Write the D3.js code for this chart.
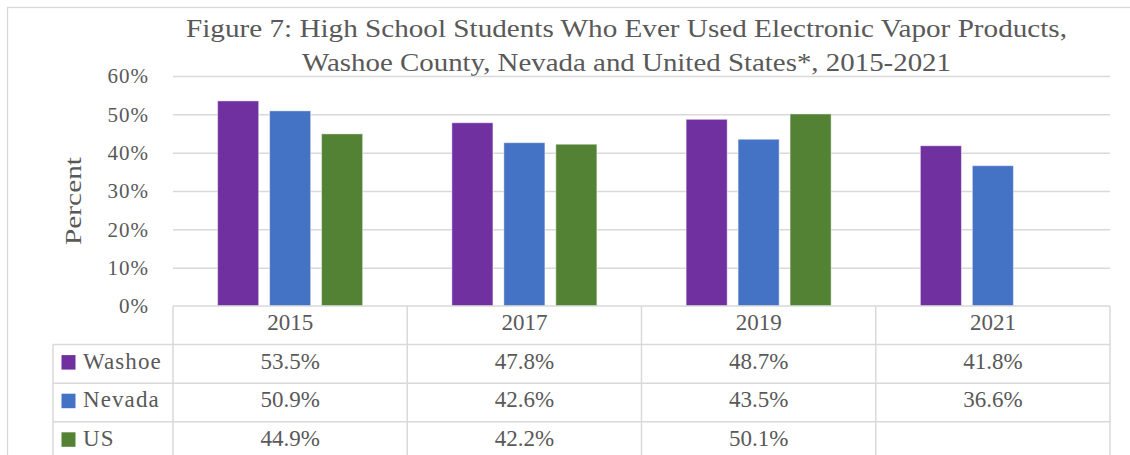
<!DOCTYPE html>
<html>
<head>
<meta charset="utf-8">
<script src="https://cdn.jsdelivr.net/npm/d3@7"></script>
<style>
  html, body { margin: 0; padding: 0; background: #fff; }
  svg { display: block; }
  text { font-family: "Liberation Serif", "DejaVu Serif", serif; fill: #595959; }
</style>
</head>
<body>
<svg id="chart" width="1130" height="455"></svg>
<script>
// Data
const years = ["2015", "2017", "2019", "2021"];
const seriesNames = ["Washoe", "Nevada", "US"];
const washoe = [53.5, 47.8, 48.7, 41.8];
const nevada = [50.9, 42.6, 43.5, 36.6];
const us = [44.9, 42.2, 50.1, null];
const yTicks = [0, 10, 20, 30, 40, 50, 60];
const titleLines = [
  "Figure 7: High School Students Who Ever Used Electronic Vapor Products,",
  "Washoe County, Nevada and United States*, 2015-2021"
];
const yLabel = "Percent";

const seriesValues = [washoe, nevada, us];
const colors = ["#7030A0", "#4472C4", "#548235"];

const svg = d3.select("#chart");

// Layout
const plot = { left: 173, right: 1110, top: 76, bottom: 306 };
const tableLeft = 53;
const rowH = 38.6;
const gridColor = "#d9d9d9";

// Outer chart border
svg.append("rect")
  .attr("x", 7.5).attr("y", 7.5)
  .attr("width", 1140).attr("height", 470)
  .attr("fill", "none").attr("stroke", gridColor).attr("stroke-width", 1.3);

// Title
const titleText = svg.append("g");
titleLines.forEach((line, i) => {
  titleText.append("text")
    .attr("x", 626.5)
    .attr("y", 37 + i * 34)
    .attr("text-anchor", "middle")
    .attr("font-size", 25)
    .attr("textLength", i === 0 ? 881 : 649)
    .attr("lengthAdjust", "spacingAndGlyphs")
    .text(line);
});

// Scales
const x = d3.scaleBand().domain(years).range([plot.left, plot.right]).padding(0);
const y = d3.scaleLinear().domain([0, 60]).range([plot.bottom, plot.top]);
const barGroupWidth = 145;
const xs = d3.scaleBand().domain(seriesNames)
  .range([-barGroupWidth / 2, barGroupWidth / 2])
  .paddingInner(0.21).paddingOuter(0);

// Gridlines
const grid = svg.append("g")
  .attr("transform", `translate(${plot.left},0)`)
  .call(d3.axisLeft(y).tickValues(yTicks.filter(t => t > 0))
    .tickSize(-(plot.right - plot.left)).tickFormat(""));
grid.select(".domain").remove();
grid.selectAll("line").attr("stroke", gridColor).attr("stroke-width", 1.5);

// Y axis labels
const yAxis = svg.append("g")
  .attr("transform", `translate(149,0)`)
  .call(d3.axisLeft(y).tickValues(yTicks).tickSize(0).tickPadding(0)
    .tickFormat(d => d + "%"));
yAxis.select(".domain").remove();
yAxis.selectAll("text")
  .attr("font-size", 21)
  .attr("letter-spacing", 1)
  .attr("fill", "#595959")
  .attr("font-family", "Liberation Serif, serif")
  .attr("dy", "0.32em");

// Y axis title
svg.append("text")
  .attr("transform", "translate(81,201) rotate(-90)")
  .attr("text-anchor", "middle")
  .attr("font-size", 24)
  .attr("textLength", 88)
  .attr("lengthAdjust", "spacingAndGlyphs")
  .text(yLabel);

// Bars
const barData = [];
years.forEach((yr, i) => {
  seriesNames.forEach((s, j) => {
    const v = seriesValues[j][i];
    if (v != null) barData.push({ year: yr, series: s, value: v, color: colors[j] });
  });
});
svg.append("g").selectAll("rect")
  .data(barData)
  .join("rect")
  .attr("x", d => x(d.year) + x.bandwidth() / 2 + xs(d.series))
  .attr("width", xs.bandwidth())
  .attr("y", d => y(d.value))
  .attr("height", d => y(0) - y(d.value))
  .attr("fill", d => d.color)
  .attr("stroke", "rgba(255,255,255,0.45)")
  .attr("stroke-width", 1);

// Data table
const table = svg.append("g");
const tableTop = plot.bottom;
const lineAttrs = sel => sel.attr("stroke", gridColor).attr("stroke-width", 1.5);
const cellFont = 23;

// Horizontal lines
table.append("line").call(lineAttrs)
  .attr("x1", plot.left).attr("x2", plot.right)
  .attr("y1", tableTop).attr("y2", tableTop);
for (let r = 1; r <= 4; r++) {
  table.append("line").call(lineAttrs)
    .attr("x1", tableLeft).attr("x2", plot.right)
    .attr("y1", tableTop + r * rowH).attr("y2", tableTop + r * rowH);
}
// Vertical lines
years.forEach(yr => {
  table.append("line").call(lineAttrs)
    .attr("x1", x(yr)).attr("x2", x(yr))
    .attr("y1", tableTop).attr("y2", 470);
});
table.append("line").call(lineAttrs)
  .attr("x1", plot.right).attr("x2", plot.right)
  .attr("y1", tableTop).attr("y2", 470);
table.append("line").call(lineAttrs)
  .attr("x1", tableLeft).attr("x2", tableLeft)
  .attr("y1", tableTop + rowH).attr("y2", 470);

// Year header
table.selectAll("text.year")
  .data(years)
  .join("text")
  .attr("class", "year")
  .attr("x", d => x(d) + x.bandwidth() / 2)
  .attr("y", tableTop + 24)
  .attr("text-anchor", "middle")
  .attr("font-size", cellFont)
  .text(d => d);

// Rows with legend keys and values
seriesNames.forEach((s, j) => {
  const rowTop = tableTop + (j + 1) * rowH;
  table.append("rect")
    .attr("x", 61.5).attr("y", rowTop + 10.5)
    .attr("width", 14).attr("height", 14.5)
    .attr("fill", colors[j]);
  table.append("text")
    .attr("x", 83).attr("y", rowTop + 24)
    .attr("font-size", cellFont)
    .attr("letter-spacing", 1.1)
    .text(s);
  years.forEach((yr, i) => {
    const v = seriesValues[j][i];
    if (v == null) return;
    table.append("text")
      .attr("x", x(yr) + x.bandwidth() / 2)
      .attr("y", rowTop + 24)
      .attr("text-anchor", "middle")
      .attr("font-size", cellFont)
      .text(v.toFixed(1) + "%");
  });
});
</script>
</body>
</html>
